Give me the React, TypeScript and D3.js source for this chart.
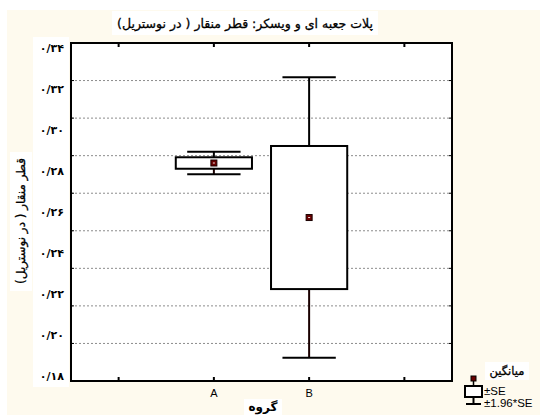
import React from "react";
import * as d3 from "d3";

// ---- data ----
const categories = ["", "A", "B", " "];
const groups = ["A", "B"];
const means = [0.2839, 0.2573];
const stdErrors = [0.0028, 0.0349];
const ciFactor = 1.96;
const yTickValues = [0.34, 0.32, 0.3, 0.28, 0.26, 0.24, 0.22, 0.2, 0.18];
const gridDivisions = 9;

const titleText = "پلات جعبه ای و ویسکر: قطر منقار ( در نوستریل)";
const yLabelText = "قطر منقار ( در نوستریل)";
const xLabelText = "گروه";
const legendMeanText = "میانگین";
const legendSeText = "±SE";
const legendCiText = "±1.96*SE";

const W = 540;
const H = 415;
const frame = { left: 71, right: 452, top: 43, bottom: 381 };

const persianDigits = "۰۱۲۳۴۵۶۷۸۹";
const toPersian = (v: number) =>
  v
    .toFixed(2)
    .replace(".", "/")
    .replace(/[0-9]/g, (d) => persianDigits[+d]);

export default function App() {
  const x = d3
    .scaleBand<string>()
    .domain(categories)
    .range([frame.left, frame.right])
    .paddingInner(0)
    .paddingOuter(0);
  const bw = x.bandwidth();
  const cx = (c: string) => (x(c) as number) + bw / 2;

  const y = d3.scaleLinear().domain([0.18, 0.34]).range([376, 48]);
  const grid = d3
    .scaleLinear()
    .domain([0, gridDivisions])
    .range([frame.bottom, frame.top]);
  const gridTicks = d3.range(1, gridDivisions);

  const boxW = bw * 0.8;
  const capW = bw * 0.56;
  const arabicFont = "'DejaVu Sans', sans-serif";

  return (
    <div style={{ position: "absolute", left: 0, top: 0 }}>
      <svg width={W} height={H} style={{ display: "block" }}>
        <rect x={0} y={0} width={W} height={H} fill="#ffffff" />
        <rect x={7} y={10} width={W - 7} height={H - 10} fill="#fefaee" />

        {/* title */}
        <rect x={112} y={11} width={266} height={24} fill="#ffffff" />
        <text
          x={245}
          y={23}
          textAnchor="middle"
          dominantBaseline="central"
          fontFamily={arabicFont}
          fontSize={12.5}
          direction="rtl"
          fill="#000"
          stroke="#000"
          strokeWidth={0.3}
        >
          {titleText}
        </text>

        {/* y label */}
        <rect x={10} y={152} width={22} height={139} fill="#ffffff" />
        <text
          transform={`translate(21,221) rotate(-90)`}
          textAnchor="middle"
          dominantBaseline="central"
          fontFamily={arabicFont}
          fontSize={12}
          direction="rtl"
          fill="#000"
          stroke="#000"
          strokeWidth={0.3}
        >
          {yLabelText}
        </text>

        {/* tick label column */}
        <rect x={33} y={37} width={36} height={350} fill="#ffffff" />
        {yTickValues.map((v) => (
          <text
            key={v}
            x={64}
            y={y(v)}
            textAnchor="end"
            dominantBaseline="central"
            fontFamily={arabicFont}
            fontSize={11}
            fontWeight="bold"
            fill="#000"
          >
            {toPersian(v)}
          </text>
        ))}

        {/* plot area */}
        <rect
          x={frame.left}
          y={frame.top}
          width={frame.right - frame.left}
          height={frame.bottom - frame.top}
          fill="#ffffff"
        />
        {gridTicks.map((t) => (
          <g key={t}>
            <line
              x1={frame.left}
              x2={frame.right}
              y1={grid(t)}
              y2={grid(t)}
              stroke="#8c8c8c"
              strokeWidth={1}
              strokeDasharray="2,2"
            />
            <line
              x1={frame.left}
              x2={frame.left + 3}
              y1={grid(t)}
              y2={grid(t)}
              stroke="#000"
              strokeWidth={1}
            />
            <line
              x1={frame.right - 3}
              x2={frame.right}
              y1={grid(t)}
              y2={grid(t)}
              stroke="#000"
              strokeWidth={1}
            />
          </g>
        ))}

        {/* boxes */}
        {groups.map((g, i) => {
          const m = means[i];
          const se = stdErrors[i];
          const c = cx(g);
          const yTop = y(m + ciFactor * se);
          const yBot = y(m - ciFactor * se);
          const bTop = y(m + se);
          const bBot = y(m - se);
          return (
            <g key={g}>
              <line x1={c} x2={c} y1={yTop} y2={bTop} stroke="#000" strokeWidth={2} />
              <line x1={c} x2={c} y1={bBot} y2={yBot} stroke="#1a0000" strokeWidth={2} />
              <line
                x1={c - capW / 2}
                x2={c + capW / 2}
                y1={yTop}
                y2={yTop}
                stroke="#000"
                strokeWidth={2}
              />
              <line
                x1={c - capW / 2}
                x2={c + capW / 2}
                y1={yBot}
                y2={yBot}
                stroke="#000"
                strokeWidth={2}
              />
              <rect
                x={c - boxW / 2}
                y={bTop}
                width={boxW}
                height={bBot - bTop}
                fill="#ffffff"
                stroke="#000"
                strokeWidth={2}
              />
              <rect
                x={c - 3}
                y={y(m) - 3}
                width={6}
                height={6}
                fill="#6a0000"
                stroke="#1a0000"
                strokeWidth={1}
              />
              <rect x={c - 1} y={y(m) - 0.5} width={2} height={1} fill="#f4e0e0" />
            </g>
          );
        })}

        {/* frame */}
        <rect
          x={frame.left}
          y={frame.top}
          width={frame.right - frame.left}
          height={frame.bottom - frame.top}
          fill="none"
          stroke="#000"
          strokeWidth={2}
        />
        {categories.map((c, i) => (
          <g key={i}>
            <line x1={cx(c)} x2={cx(c)} y1={frame.top} y2={frame.top + 4} stroke="#000" strokeWidth={2} />
            <line
              x1={cx(c)}
              x2={cx(c)}
              y1={frame.bottom - 4}
              y2={frame.bottom}
              stroke="#000"
              strokeWidth={2}
            />
            {c.trim() !== "" && (
              <text
                x={cx(c)}
                y={393}
                textAnchor="middle"
                dominantBaseline="central"
                fontFamily="'Liberation Sans', Arial, sans-serif"
                fontSize={11}
                fill="#000"
              >
                {c}
              </text>
            )}
          </g>
        ))}

        {/* x label */}
        <rect x={244} y={399} width={38} height={16} fill="#ffffff" />
        <text
          x={263}
          y={407}
          textAnchor="middle"
          dominantBaseline="central"
          fontFamily={arabicFont}
          fontSize={12}
          fontWeight="bold"
          direction="rtl"
          fill="#000"
        >
          {xLabelText}
        </text>

        {/* legend */}
        <rect x={485} y={362} width={44} height={18} fill="#ffffff" />
        <text
          x={507}
          y={371}
          textAnchor="middle"
          dominantBaseline="central"
          fontFamily={arabicFont}
          fontSize={11.5}
          direction="rtl"
          fill="#000"
          stroke="#000"
          strokeWidth={0.3}
        >
          {legendMeanText}
        </text>
        <rect x={471} y={376} width={5} height={5} fill="#6a0000" stroke="#000" strokeWidth={1} />
        <line x1={473.5} x2={473.5} y1={381} y2={386} stroke="#000" strokeWidth={1.5} />
        <rect x={465} y={386} width={17} height={11} fill="#ffffff" stroke="#000" strokeWidth={2} />
        <line x1={473.5} x2={473.5} y1={397} y2={404} stroke="#000" strokeWidth={2} />
        <line x1={466} x2={481} y1={404} y2={404} stroke="#000" strokeWidth={2} />
        <text
          x={484}
          y={391}
          dominantBaseline="central"
          fontFamily="'Liberation Sans', Arial, sans-serif"
          fontSize={11.5}
          fill="#000"
        >
          {legendSeText}
        </text>
        <text
          x={484}
          y={403}
          dominantBaseline="central"
          fontFamily="'Liberation Sans', Arial, sans-serif"
          fontSize={11.5}
          fill="#000"
        >
          {legendCiText}
        </text>
      </svg>
    </div>
  );
}
